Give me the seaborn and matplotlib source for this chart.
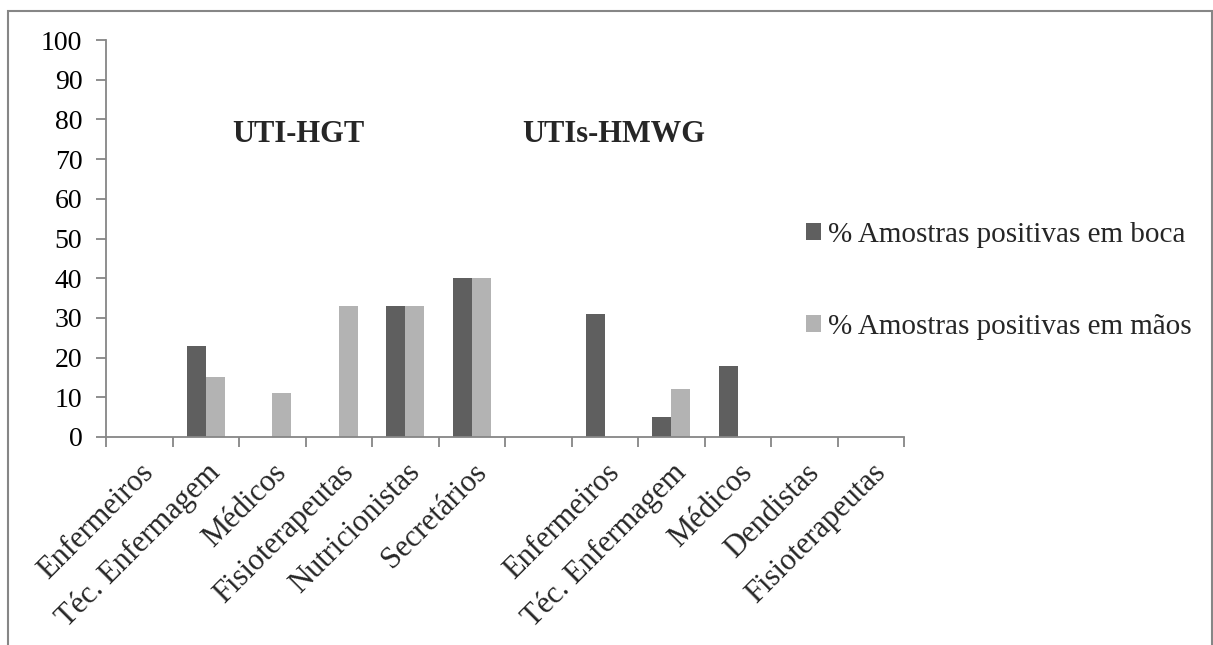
import matplotlib
matplotlib.use("Agg")
import matplotlib.pyplot as plt
import seaborn as sns
import pandas as pd
import numpy as np
from matplotlib.patches import Rectangle, Patch

sns.set_theme(style="white")
plt.rcParams['font.family'] = ['Liberation Serif', 'DejaVu Serif']

# ---- data ----
categories = ["Enfermeiros", "Téc. Enfermagem", "Médicos", "Fisioterapeutas",
              "Nutricionistas", "Secretários", "",
              "Enfermeiros", "Téc. Enfermagem", "Médicos", "Dendistas", "Fisioterapeutas"]
boca = [0, 23, 0, 0, 33, 40, 0, 31, 5, 18, 0, 0]
maos = [0, 15, 11, 33, 33, 40, 0, 0, 12, 0, 0, 0]
series_names = ["% Amostras positivas em boca", "% Amostras positivas em mãos"]
group_titles = ["UTI-HGT", "UTIs-HMWG"]
yticks = [0, 10, 20, 30, 40, 50, 60, 70, 80, 90, 100]

colors = ["#5f5f5f", "#b3b3b3"]
axis_col = "#868686"

keys = [f"c{i}" for i in range(len(categories))]
df = pd.DataFrame({
    "key": keys * 2,
    "value": boca + maos,
    "serie": [series_names[0]] * len(keys) + [series_names[1]] * len(keys),
})

W, H = 1213, 645
fig = plt.figure(figsize=(W / 100, H / 100), dpi=100)
ax = fig.add_axes([106 / W, 1 - 437 / H, 798 / W, 397 / H])

sns.barplot(data=df, x="key", y="value", hue="serie", order=keys,
            hue_order=series_names, palette=colors, width=0.57,
            saturation=1, edgecolor="none", linewidth=0, ax=ax, legend=False)

ax.set_xlim(-0.5, len(keys) - 0.5)
ax.set_ylim(0, 100)
ax.set_yticks(yticks)
ax.set_yticklabels([str(v) for v in yticks], fontsize=20, color="black")
ax.set_xlabel("")
ax.set_ylabel("")

# x ticks at category boundaries, labels at centres
ax.set_xticks(np.arange(-0.5, len(keys), 1.0))
ax.set_xticklabels([])
ax.set_xticks(np.arange(len(keys)), minor=True)
ax.set_xticklabels(categories, minor=True, rotation=45, ha="right", va="top",
                   rotation_mode="anchor", fontsize=22)
ax.tick_params(axis="x", which="minor", length=0, pad=15)
ax.tick_params(axis="x", which="major", length=7, width=1.3, color=axis_col,
               direction="out", bottom=True)
ax.tick_params(axis="y", length=7, width=1.3, color=axis_col, direction="out",
               left=True, pad=10)

for s in ["top", "right"]:
    ax.spines[s].set_visible(False)
for s in ["left", "bottom"]:
    ax.spines[s].set_color(axis_col)
    ax.spines[s].set_linewidth(1.3)
ax.grid(False)

# group titles
fig.text(298 / W, 1 - 134 / H, group_titles[0], fontsize=22, fontweight="bold",
         ha="center", va="center")
fig.text(614 / W, 1 - 134 / H, group_titles[1], fontsize=22, fontweight="bold",
         ha="center", va="center")

# legend
handles = [Patch(facecolor=colors[0], edgecolor="none"),
           Patch(facecolor=colors[1], edgecolor="none")]
fig.legend(handles, series_names, loc="upper left",
           bbox_to_anchor=(806 / W, 1 - 222 / H), frameon=False, fontsize=21,
           handlelength=0.5, handleheight=0.5, handletextpad=0.25,
           labelspacing=2.26, borderpad=0, borderaxespad=0)

# chart border (open at the bottom)
fig.add_artist(Rectangle((8 / W, -0.05), (1211.5 - 8) / W, 1.05 - 11 / H,
                         transform=fig.transFigure, fill=False,
                         edgecolor=axis_col, linewidth=1.5))

fig.savefig("out.png", dpi=100)
